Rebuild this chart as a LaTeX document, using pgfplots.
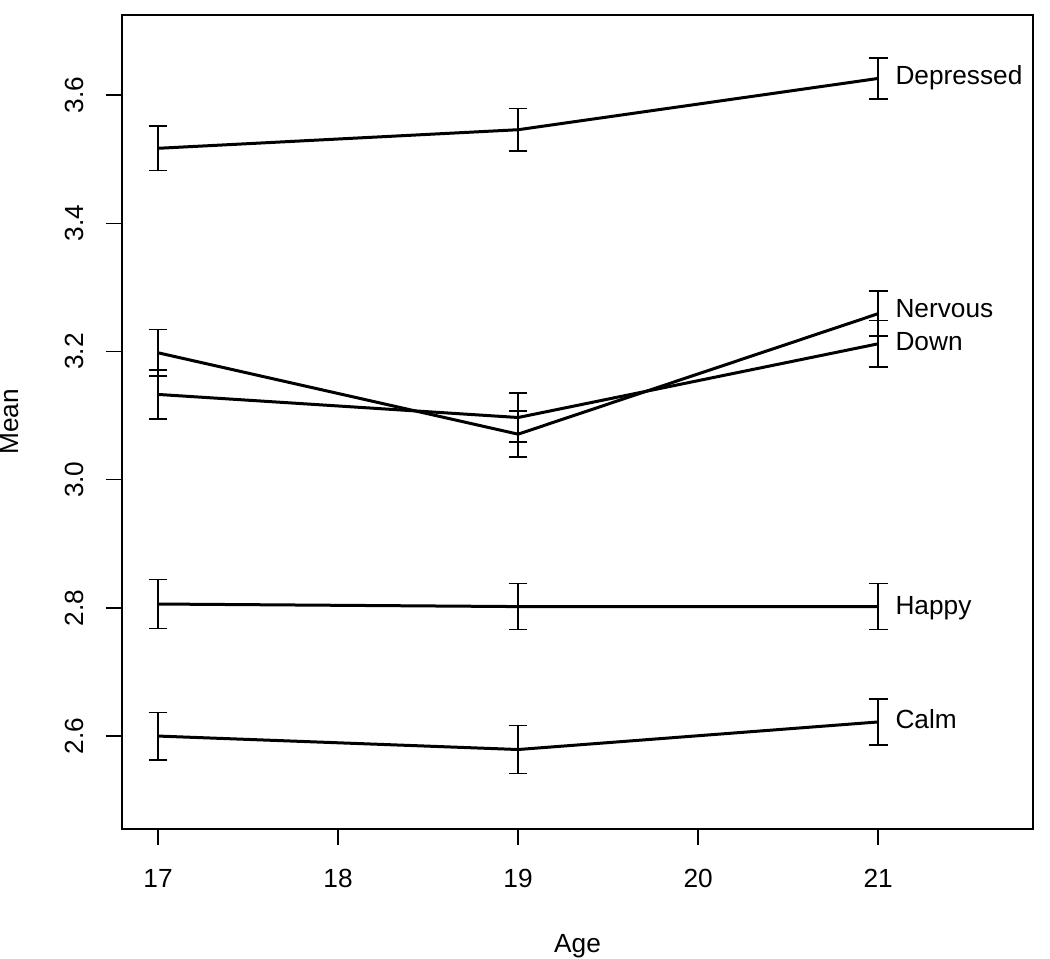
\documentclass[border=0pt]{standalone}
\usepackage{fontspec}
\setmainfont{Liberation Sans}
\usepackage{pgfplots}
\pgfplotsset{compat=1.18}
\begin{document}
\fontsize{12.6pt}{15pt}\selectfont
\begin{tikzpicture}
\useasboundingbox (0,0) rectangle (504pt,460.32pt);
\begin{axis}[
  at={(58.56pt,62.4pt)}, anchor=south west,
  scale only axis, width=437.28pt, height=390.72pt,
  xmin=16.8, xmax=21.86, ymin=2.455, ymax=3.725,
  xtick={17,18,19,20,21}, ytick={2.6,2.8,3.0,3.2,3.4,3.6},
  yticklabels={2.6,2.8,3.0,3.2,3.4,3.6},
  xtick pos=bottom, ytick pos=left,
  tick align=outside, major tick length=7.68pt,
  every tick/.style={black, line width=0.72pt},
  axis line style={line width=0.72pt},
  /pgf/number format/assume math mode=true,
  xticklabel style={anchor=center, font=\fontsize{12.6pt}{15pt}\selectfont},
  yticklabel style={rotate=90, anchor=center, font=\fontsize{12.6pt}{15pt}\selectfont},
  xticklabel shift=16pt, yticklabel shift=15pt,
  clip=false,
  ebar/.style={black, line width=1.44pt, mark=none,
    error bars/.cd, y dir=both, y explicit,
    error bar style={line width=0.72pt},
    error mark options={line width=0.72pt, mark size=4.5pt, rotate=90}},
]
% Depressed
\addplot[ebar] coordinates {(17,3.517) +- (0,0.035) (19,3.546) +- (0,0.033) (21,3.626) +- (0,0.032)};
% Nervous
\addplot[ebar] coordinates {(17,3.198) +- (0,0.036) (19,3.071) +- (0,0.036) (21,3.259) +- (0,0.035)};
% Down
\addplot[ebar] coordinates {(17,3.133) +- (0,0.038) (19,3.097) +- (0,0.038) (21,3.212) +- (0,0.036)};
% Happy
\addplot[ebar] coordinates {(17,2.806) +- (0,0.038) (19,2.802) +- (0,0.036) (21,2.802) +- (0,0.036)};
% Calm
\addplot[ebar] coordinates {(17,2.600) +- (0,0.037) (19,2.579) +- (0,0.0375) (21,2.622) +- (0,0.036)};
\node[anchor=base west, inner sep=0pt, yshift=-4.5pt] at (axis cs:21.094,3.631) {Depressed};
\node[anchor=base west, inner sep=0pt, yshift=-4.5pt] at (axis cs:21.094,3.268) {Nervous};
\node[anchor=base west, inner sep=0pt, yshift=-4.5pt] at (axis cs:21.094,3.216) {Down};
\node[anchor=base west, inner sep=0pt, yshift=-4.5pt] at (axis cs:21.094,2.805) {Happy};
\node[anchor=base west, inner sep=0pt, yshift=-4.5pt] at (axis cs:21.094,2.626) {Calm};
\node[anchor=base, inner sep=0pt] at ([yshift=-59.5pt]rel axis cs:0.5,0) {Age};
\node[anchor=base, inner sep=0pt, rotate=90] at ([xshift=-49.9pt]rel axis cs:0,0.5) {Mean};
\end{axis}
\end{tikzpicture}
\end{document}
